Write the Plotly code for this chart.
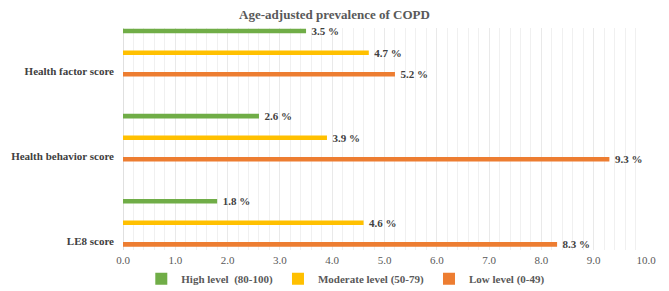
import plotly.graph_objects as go

categories = ["LE8 score", "Health behavior score", "Health factor score"]
high_vals = [1.8, 2.6, 3.5]
moderate_vals = [4.6, 3.9, 4.7]
low_vals = [8.3, 9.3, 5.2]
series_names = ["Low level (0-49)", "Moderate level (50-79)", "High level\u00a0\u00a0(80-100)"]
series_colors = ["#ED7D31", "#FFC000", "#70AD47"]
x_ticks = [0, 1, 2, 3, 4, 5, 6, 7, 8, 9, 10]

FONT = "Liberation Serif, Times New Roman, serif"

fig = go.Figure()
for name, vals, col in zip(series_names, [low_vals, moderate_vals, high_vals], series_colors):
    fig.add_trace(go.Bar(
        y=categories, x=vals, name=name, orientation="h",
        marker=dict(color=col, line=dict(width=0)),
        texttemplate="\u00a0\u00a0%{x:.1f} %", textposition="outside",
        textfont=dict(family=FONT, size=11, color="#404040", weight="bold"),
        constraintext="none", cliponaxis=False,
    ))

fig.update_layout(
    width=669, height=291,
    margin=dict(l=123, r=23, t=28, b=41, autoexpand=False),
    paper_bgcolor="white", plot_bgcolor="white",
    barmode="group", bargap=0.238, bargroupgap=0.79,
    font=dict(family=FONT, color="#595959"),
    title=dict(text="<b>Age-adjusted prevalence of COPD</b>",
               font=dict(family=FONT, size=13, color="#595959"),
               x=0.5, xref="container", xanchor="center",
               y=1 - 14 / 291, yref="container", yanchor="middle"),
    legend=dict(orientation="h", traceorder="reversed",
                x=0.426, xref="paper", xanchor="center",
                y=-0.13, yanchor="middle",
                font=dict(family=FONT, size=11, color="#595959", weight="bold"),
                itemwidth=30, tracegroupgap=0),
    xaxis=dict(range=[0, 10], tickvals=x_ticks, tickformat=".1f", automargin=False,
               tickfont=dict(family=FONT, size=11, color="#595959"),
               ticklabelstandoff=2,
               showgrid=True, gridcolor="#E9E9E9", gridwidth=1,
               minor=dict(dtick=0.2, showgrid=True, gridcolor="#F0F0F0", gridwidth=1),
               zeroline=True, zerolinecolor="#E0E0E0", zerolinewidth=1,
               showline=False, ticks="", fixedrange=True),
    yaxis=dict(categoryorder="array", categoryarray=categories, automargin=False,
               range=[-0.32, 2.29], showgrid=False, zeroline=False, showline=False,
               ticks="", ticklabelshift=18, ticklabelstandoff=8, fixedrange=True,
               tickfont=dict(family=FONT, size=11, color="#404040", weight="bold")),
)

fig.write_html("out.html", config={"displayModeBar": False},
               post_script="document.body.style.margin='0';")
